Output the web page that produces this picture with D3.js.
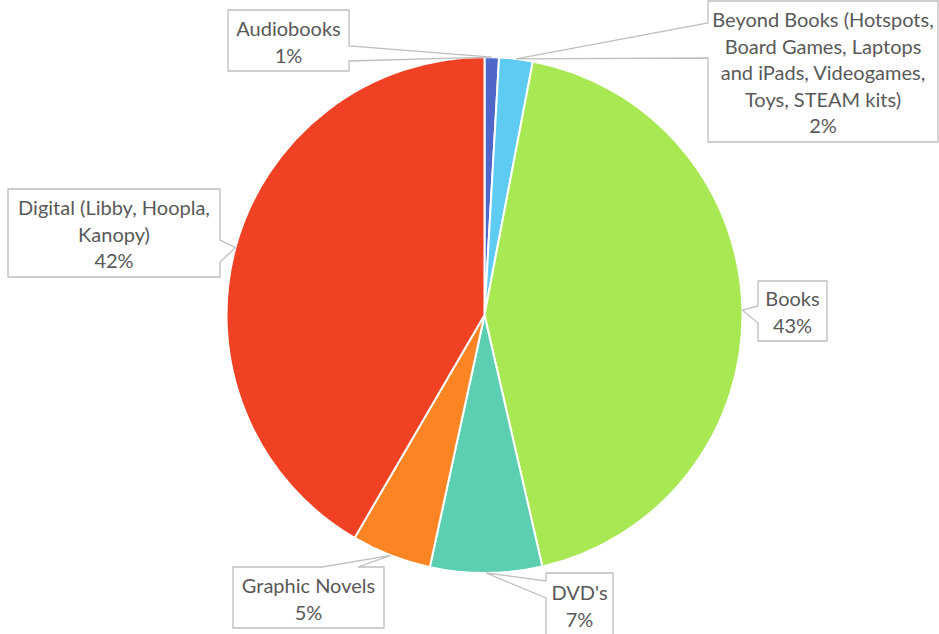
<!DOCTYPE html>
<html>
<head>
<meta charset="utf-8">
<script src="https://cdn.jsdelivr.net/npm/d3@7/dist/d3.min.js"></script>
<style>
  html, body { margin: 0; padding: 0; background: #ffffff; }
  svg { display: block; }
  text { font-family: Lato, "Open Sans", sans-serif; fill: #595959; }
</style>
</head>
<body>
<svg id="chart" width="939" height="634"></svg>
<script>
// Circulation share by material type (percent of total)
const categories = [
  "Audiobooks",
  "Beyond Books (Hotspots, Board Games, Laptops and iPads, Videogames, Toys, STEAM kits)",
  "Books",
  "DVD's",
  "Graphic Novels",
  "Digital (Libby, Hoopla, Kanopy)"
];
const shares = [0.9, 2.1, 43.4, 7.0, 5.0, 41.6];
const sliceColors = ["#4e67c8", "#5ecbf3", "#a8e853", "#5ccfb2", "#fd8422", "#f04125"];
// How each category name wraps inside its callout
const labelLines = [
  ["Audiobooks"],
  ["Beyond Books (Hotspots,", "Board Games, Laptops", "and iPads, Videogames,", "Toys, STEAM kits)"],
  ["Books"],
  ["DVD's"],
  ["Graphic Novels"],
  ["Digital (Libby, Hoopla,", "Kanopy)"]
];

// Callout boxes: position, size, side carrying the pointer and the span of its base
const callouts = [
  { x: 228, y: 10,  w: 121, h: 61,  side: "right", base: [46, 61] },
  { x: 708, y: 1,   w: 230, h: 141, side: "left",  base: [23, 58] },
  { x: 758, y: 281, w: 69,  h: 60,  side: "left",  base: [306, 323] },
  { x: 546, y: 573, w: 67,  h: 70,  side: "left",  base: [581, 598] },
  { x: 233, y: 567, w: 151, h: 61,  side: "top",   base: [322, 358] },
  { x: 8,   y: 189, w: 212, h: 88,  side: "right", base: [240, 262] }
];

const cx = 484.5, cy = 315, radius = 258;
const lineHeight = 26.6;

const svg = d3.select("#chart");
const data = categories.map((name, i) => ({ name, value: shares[i], i }));

const pie = d3.pie().sort(null).value(d => d.value);
const arcs = pie(data);
const arc = d3.arc().innerRadius(0).outerRadius(radius);
const rim = d3.arc().innerRadius(radius).outerRadius(radius);

const g = svg.append("g").attr("transform", `translate(${cx},${cy})`);
g.selectAll("path.slice")
  .data(arcs)
  .join("path")
  .attr("class", "slice")
  .attr("d", arc)
  .attr("fill", d => sliceColors[d.data.i])
  .attr("stroke", "#ffffff")
  .attr("stroke-width", 2)
  .attr("stroke-linejoin", "round");

// Callout outline with a pointer reaching the slice edge at its mid-angle
function calloutPath(c, tip) {
  const [tx, ty] = tip;
  const x0 = c.x, y0 = c.y, x1 = c.x + c.w, y1 = c.y + c.h;
  const [a, b] = c.base;
  const p = d3.path();
  p.moveTo(x0, y0);
  if (c.side === "top") { p.lineTo(a, y0); p.lineTo(tx, ty); p.lineTo(b, y0); }
  p.lineTo(x1, y0);
  if (c.side === "right") { p.lineTo(x1, a); p.lineTo(tx, ty); p.lineTo(x1, b); }
  p.lineTo(x1, y1);
  p.lineTo(x0, y1);
  if (c.side === "left") { p.lineTo(x0, b); p.lineTo(tx, ty); p.lineTo(x0, a); }
  p.closePath();
  return p.toString();
}

const labels = svg.append("g");
arcs.forEach(d => {
  const i = d.data.i;
  const c = callouts[i];
  const [mx, my] = rim.centroid(d);
  const tip = [cx + mx, cy + my];
  labels.append("path")
    .attr("d", calloutPath(c, tip))
    .attr("fill", "#ffffff")
    .attr("stroke", "#bfbfbf")
    .attr("stroke-width", 1.3);

  const lines = labelLines[i].concat([Math.round(d.data.value) + "%"]);
  const mid = i === 3 ? c.y + 33 : (c.y + c.y + c.h) / 2 + 1.5;
  const first = mid - (lines.length - 1) * lineHeight / 2;
  const t = labels.append("text")
    .attr("text-anchor", "middle")
    .attr("font-size", 20);
  lines.forEach((ln, k) => {
    t.append("tspan")
      .attr("x", c.x + c.w / 2)
      .attr("y", first + k * lineHeight)
      .attr("dy", "0.36em")
      .text(ln);
  });
});
</script>
</body>
</html>
